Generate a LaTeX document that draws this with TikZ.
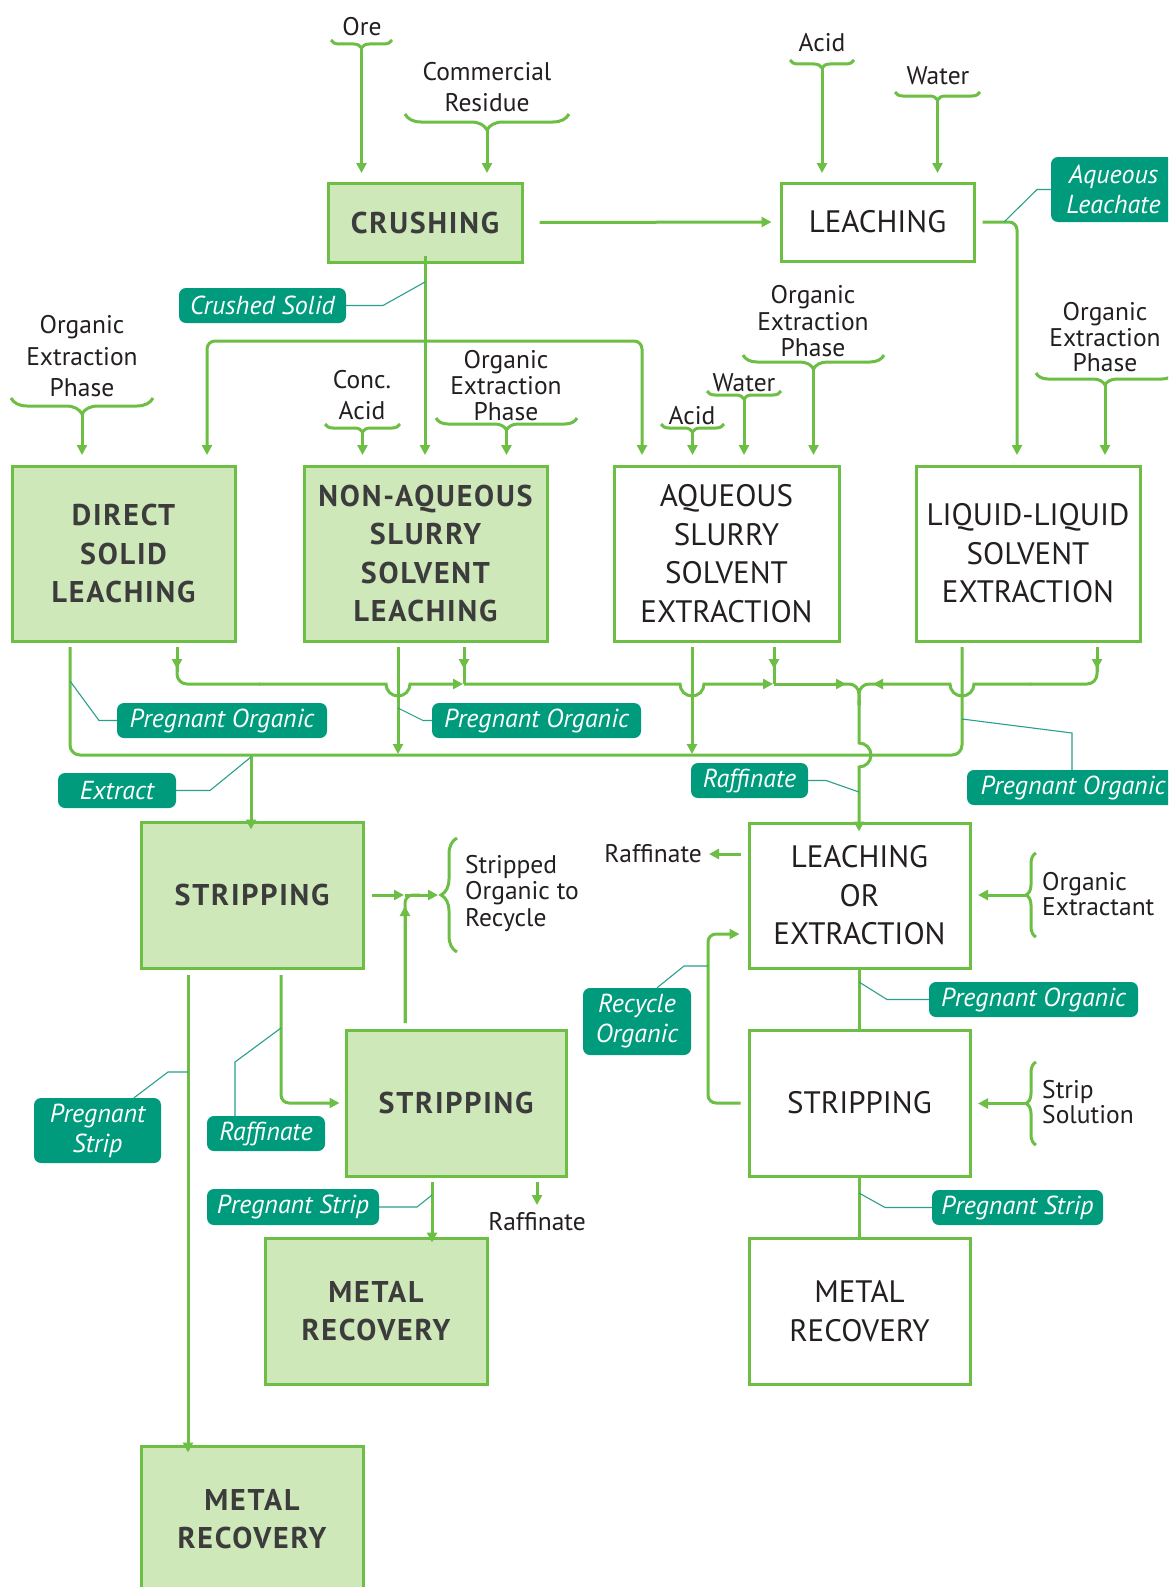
\documentclass[tikz,border=0pt]{standalone}
\usepackage{fontspec}
\setmainfont{PT Sans}
\usetikzlibrary{arrows.meta,decorations.pathreplacing}
\definecolor{lg}{RGB}{109,190,69}
\definecolor{fg}{RGB}{207,232,185}
\definecolor{tl}{RGB}{0,155,125}
\definecolor{ll}{RGB}{40,160,140}
\definecolor{dk}{RGB}{60,60,60}
\definecolor{bk}{RGB}{35,31,32}
\begin{document}
\begin{tikzpicture}[x=1pt,y=-1pt,
  conn/.style={draw=lg,line width=3pt},
  arr/.style={conn,-{Triangle[length=10pt,width=10pt]}},
  fillbox/.style={draw=lg,line width=3pt,fill=fg,text=dk,font=\bfseries\fontsize{30}{38.5}\selectfont\addfontfeatures{LetterSpace=6},align=center,inner sep=0pt},
  whitebox/.style={draw=lg,line width=3pt,fill=white,text=bk,font=\fontsize{31}{38.5}\selectfont,align=center,inner sep=0pt},
  tagbox/.style={fill=tl,rounded corners=7pt,text=white,font=\itshape\fontsize{26}{30}\selectfont,align=center,inner sep=0pt},
  lead/.style={draw=ll,line width=1.1pt},
  lbl/.style={text=bk,font=\fontsize{25.5}{#1}\selectfont,align=center,inner sep=0pt},
  lbl/.default=31,
  hbrace/.style={conn,decorate,decoration={brace,amplitude=#1}},
]
\useasboundingbox (0,0) rectangle (1168,1587);
\clip (0,0) rectangle (1168,1587);
\fill[white] (0,0) rectangle (1168,1587);

% ---------- boxes ----------
\node[fillbox, minimum width=194pt, minimum height=79pt] (crush) at (425,222.5) {CRUSHING};
\node[whitebox, minimum width=193pt, minimum height=78pt] (leach) at (877.5,222) {LEACHING};
\node[fillbox, minimum width=223pt, minimum height=175pt] (dsl) at (123.5,553.5) {DIRECT\\SOLID\\LEACHING};
\node[fillbox, minimum width=243pt, minimum height=175pt] (nasl) at (425.5,553.5) {NON-AQUEOUS\\SLURRY\\SOLVENT\\LEACHING};
\node[whitebox, minimum width=225pt, minimum height=175pt] (asse) at (726.5,553.5) {AQUEOUS\\SLURRY\\SOLVENT\\EXTRACTION};
\node[whitebox, minimum width=224pt, minimum height=175pt] (llse) at (1028,553.5) {LIQUID-LIQUID\\SOLVENT\\EXTRACTION};
\node[fillbox, minimum width=222pt, minimum height=146pt] (strip1) at (252,895) {STRIPPING};
\node[fillbox, minimum width=220pt, minimum height=146pt] (strip2) at (456,1103) {STRIPPING};
\node[fillbox, minimum width=222pt, minimum height=146pt] (mr1) at (376,1311) {METAL\\RECOVERY};
\node[fillbox, minimum width=222pt, minimum height=146pt] (mr2) at (252,1519) {METAL\\RECOVERY};
\node[whitebox, minimum width=221pt, minimum height=145pt] (loe) at (859.5,895.5) {LEACHING\\OR\\EXTRACTION};
\node[whitebox, minimum width=221pt, minimum height=146pt] (strip3) at (859.5,1103) {STRIPPING};
\node[whitebox, minimum width=221pt, minimum height=146pt] (mr3) at (859.5,1311) {METAL\\RECOVERY};

% ---------- plain labels ----------
\node[lbl] (ore) at (362,27) {Ore};
\node[lbl] (comm) at (487,87.5) {Commercial\\Residue};
\node[lbl] (acid1) at (822,43) {Acid};
\node[lbl] (water1) at (938,76) {Water};
\node[lbl=31.5] (oep1) at (82,356.5) {Organic\\Extraction\\Phase};
\node[lbl] (conc) at (362,395.5) {Conc.\\Acid};
\node[lbl=26] (oep2) at (506,386) {Organic\\Extraction\\Phase};
\node[lbl] (acid2) at (692,416) {Acid};
\node[lbl] (water2) at (744,383) {Water};
\node[lbl=26.5] (oep3) at (813,321.5) {Organic\\Extraction\\Phase};
\node[lbl=25.5] (oep4) at (1105,337.5) {Organic\\Extraction\\Phase};
\node[lbl=26.5, align=left, anchor=west] (strp) at (465,893.5) {Stripped\\Organic to\\Recycle};
\node[lbl, anchor=east] (raf1) at (702,854) {Raffinate};
\node[lbl=25, align=left, anchor=west] (orgx) at (1042,894.5) {Organic\\Extractant};
\node[lbl=25, align=left, anchor=west] (strs) at (1042,1102.5) {Strip\\Solution};
\node[lbl] (raf2) at (537,1222) {Raffinate};

% ---------- braces ----------
\draw[hbrace=8pt] (392,40) -- (331,40);
\draw[hbrace=16pt] (569,114) -- (405,114);
\draw[hbrace=8pt] (854,60) -- (790,60);
\draw[hbrace=8pt] (980,92) -- (895,92);
\draw[hbrace=16pt] (153,398) -- (11,398);
\draw[hbrace=8pt] (400,424) -- (325,424);
\draw[hbrace=12pt] (577,418) -- (436,418);
\draw[hbrace=8pt] (724,424) -- (661,424);
\draw[hbrace=8pt] (781,391) -- (707,391);
\draw[hbrace=14pt] (884,355) -- (743,355);
\draw[hbrace=12pt] (1174,373) -- (1036,373);
\draw[hbrace=16pt] (457,952) -- (457,838);
\draw[hbrace=10pt] (1036,937) -- (1036,853);
\draw[hbrace=10pt] (1036,1145) -- (1036,1062);

% ---------- top arrows ----------
\draw[arr] (361.5,48) -- (361.5,173);
\draw[arr] (487,130) -- (487,173);
\draw[arr] (822,68) -- (822,173);
\draw[arr] (937.5,100) -- (937.5,173);
\draw[arr] ([xshift=16pt]crush.east) -- ([xshift=-8pt]leach.west);
\draw[conn,rounded corners=8pt,-{Triangle[length=10pt,width=10pt]}] ([xshift=7pt]leach.east) -- (1017,222) -- (1017,455);
\draw[arr] ([yshift=8pt]crush.south) -- (425,455);
\draw[conn,rounded corners=8pt,{Triangle[length=10pt,width=10pt]}-{Triangle[length=10pt,width=10pt]}] (207,455) -- (207,341) -- (642,341) -- (642,455);
\draw[arr] (82,414) -- (82,455);
\draw[arr] (362.5,432) -- (362.5,455);
\draw[arr] (506.5,430) -- (506.5,455);
\draw[arr] (692.5,432) -- (692.5,455);
\draw[arr] (744,399) -- (744,455);
\draw[arr] (813.5,369) -- (813.5,455);
\draw[arr] (1105,385) -- (1105,455);

% ---------- lower collectors ----------
\draw[conn,rounded corners=10pt] (70,647) -- (70,755) -- (962,755) -- (962,647);
\draw[arr] (398,647) -- (398,754);
\draw[arr] (692,647) -- (692,754);
\draw[arr] (251,755) -- ([yshift=-9pt]strip1.north -| 251,0);
\draw[conn] (177,647) -- (177,672);
\draw[conn] (464,647) -- (464,684);
\draw[conn] (774,647) -- (774,684);
\draw[conn] (1097,647) -- (1097,672);
\draw[arr] (177,647) -- (177,669);
\draw[arr] (464,647) -- (464,669);
\draw[arr] (774,647) -- (774,669);
\draw[arr] (1097,647) -- (1097,669);
\draw[conn,rounded corners=10pt] (177,665) -- (177,684) -- (260,684);
\draw[arr] (259,684) -- (386,684) arc[start angle=180,end angle=0,radius=12] -- (463,684);
\draw[arr] (464,684) -- (680,684) arc[start angle=180,end angle=0,radius=12] -- (773,684);
\draw[arr] (774,684) -- (846,684);
\draw[conn,rounded corners=10pt] (835,684) -- (859,684) -- (859,705);
\draw[conn,rounded corners=10pt] (883,684) -- (859,684) -- (859,705);
\draw[conn,rounded corners=10pt] (1097,665) -- (1097,684) -- (1030,684);
\draw[arr] (1031,684) -- (974,684) arc[start angle=0,end angle=180,radius=12] -- (873,684);
\draw[arr] (859,700) -- (859,743) arc[start angle=-90,end angle=90,radius=12] -- ([yshift=-10pt]loe.north -| 859,0);

% ---------- stripping section ----------
\draw[arr] ([xshift=7pt]strip1.east |- 0,895) -- (404,895);
\draw[conn,rounded corners=8pt] (405,1023) -- (405,895) -- (420,895);
\draw[arr] (405,1023) -- (405,906);
\draw[arr] (405,895) -- (438,895);
\draw[arr] (188,975) -- ([yshift=-8pt]mr2.north -| 188,0);
\draw[arr,rounded corners=8pt] (281,975) -- (281,1103) -- ([xshift=-5pt]strip2.west);
\draw[arr] (432,1182) -- ([yshift=-6pt]mr1.north -| 432,0);
\draw[arr] (537,1182) -- (537,1205);

\draw[arr] ([xshift=-7pt]loe.west |- 0,854) -- (709,854);
\draw[arr] (1026,895) -- (978,895);
\draw[arr] (1026,1103.5) -- (978,1103.5);
\draw[arr,rounded corners=8pt] ([xshift=-7pt]strip3.west) -- (708,1103) -- (708,934) -- ([xshift=-8pt]loe.west |- 0,934);
\draw[conn] (loe.south -| 859,0) -- (strip3.north -| 859,0);
\draw[conn] (strip3.south -| 859,0) -- (mr3.north -| 859,0);

% ---------- tags ----------
\node[tagbox, minimum width=167pt, minimum height=35pt] (tcs) at (262.5,305.5) {Crushed Solid};
\node[tagbox, minimum width=125pt, minimum height=65pt] (tal) at (1113.5,189.5) {Aqueous\\Leachate};
\node[tagbox, minimum width=210pt, minimum height=35pt] (tpo1) at (222,720.5) {Pregnant Organic};
\node[tagbox, minimum width=209pt, minimum height=35pt] (tpo2) at (536.5,720.5) {Pregnant Organic};
\node[tagbox, minimum width=118pt, minimum height=35pt] (tex) at (117,790.5) {Extract};
\node[tagbox, minimum width=117pt, minimum height=35pt] (trf1) at (749.5,780.5) {Raffinate};
\node[tagbox, minimum width=212pt, minimum height=35pt] (tpo3) at (1073,787.5) {Pregnant Organic};
\node[tagbox, minimum width=108pt, minimum height=67pt] (tro) at (637,1021.5) {Recycle\\Organic};
\node[tagbox, minimum width=209pt, minimum height=35pt] (tpo4) at (1033.5,999.5) {Pregnant Organic};
\node[tagbox, minimum width=127pt, minimum height=65pt] (tps1) at (97.5,1130.5) {Pregnant\\Strip};
\node[tagbox, minimum width=118pt, minimum height=35pt] (trf2) at (266,1133.5) {Raffinate};
\node[tagbox, minimum width=172pt, minimum height=36pt] (tps2) at (293,1207) {Pregnant Strip};
\node[tagbox, minimum width=171pt, minimum height=35pt] (tps3) at (1017.5,1207.5) {Pregnant Strip};

% ---------- leaders ----------
\draw[lead] (tcs.east) -- (383,305.5) -- (425,282);
\draw[lead] (tal.west) -- (1037,189.5) -- (1004,222);
\draw[lead] (tpo1.west) -- (99,720.5) -- (70,681);
\draw[lead] (tpo2.west) -- (423,720.5) -- (398,708);
\draw[lead] (tex.east) -- (210,790.5) -- (251,757);
\draw[lead] (trf1.east) -- (826,780.5) -- (859,792);
\draw[lead] (962,719) -- (1072,733) -- (tpo3.north -| 1072,0);
\draw[lead] (tps1.north -| 134,0) -- (168,1072) -- (188,1072);
\draw[lead] (trf2.north -| 235,0) -- (235,1062) -- (281,1028);
\draw[lead] (tps2.east) -- (417,1207) -- (432,1195);
\draw[lead] (tro.north -| 657,0) -- (684,966) -- (708,966);
\draw[lead] (tpo4.west) -- (887,999.5) -- (859,982);
\draw[lead] (tps3.west) -- (885,1207.5) -- (859,1193);
\end{tikzpicture}
\end{document}
